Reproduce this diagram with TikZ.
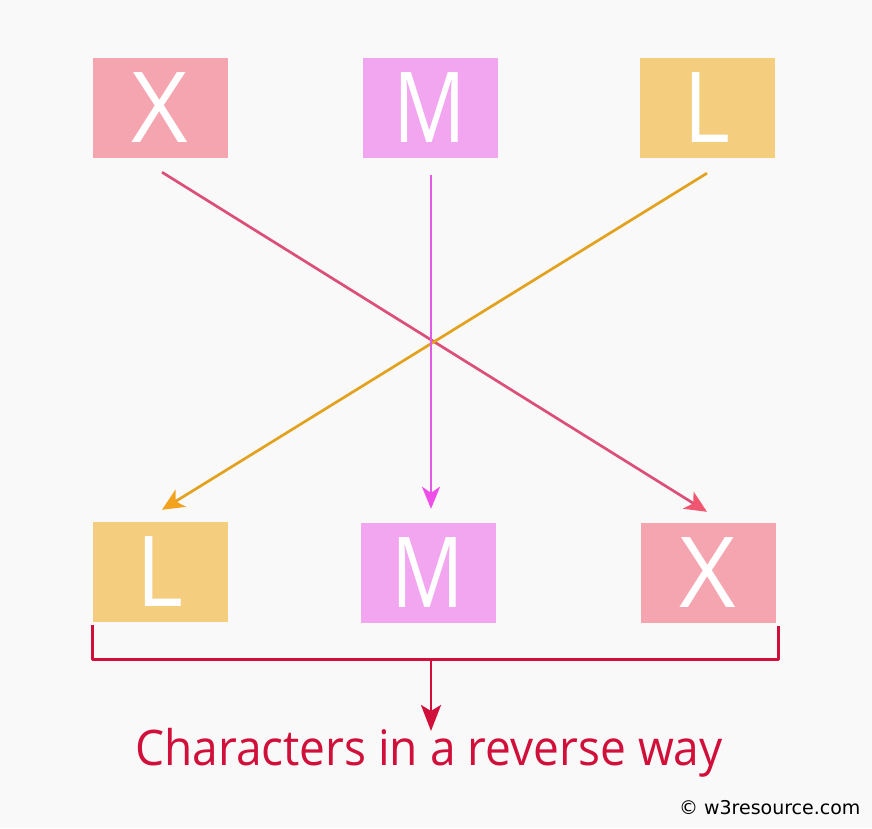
\documentclass[tikz,border=0pt]{standalone}
\usepackage{fontspec}
\setmainfont{Open Sans}
\newfontfamily\dejavu{DejaVu Sans}
\usetikzlibrary{arrows.meta,calc}
\definecolor{bgc}{HTML}{F9F9F9}
\definecolor{xbox}{HTML}{F5A5B0}
\definecolor{mbox}{HTML}{F2A6F0}
\definecolor{lbox}{HTML}{F5CD7E}
\definecolor{xline}{HTML}{DB4F78}
\definecolor{mline}{HTML}{E05CE2}
\definecolor{lline}{HTML}{E3A21E}
\definecolor{xtip}{HTML}{F05670}
\definecolor{mtip}{HTML}{F04EE8}
\definecolor{ltip}{HTML}{F2A21C}
\definecolor{redc}{HTML}{D0103A}
\tikzset{
  letterbox/.style={minimum width=135pt,minimum height=100pt,inner sep=0pt},
  lettertext/.style={font=\fontsize{98}{98}\selectfont,text=white,inner sep=0pt},
  conn/.style={line width=2.7pt},
}
% #1 name, #2 position, #3 colour, #4 letter, #5 horizontal scale
\newcommand{\boxletter}[5]{%
  \node[letterbox,fill=#3] (#1) at #2 {};
  \node[lettertext,xscale=#5] (#1t) at (#1.center) {#4};
}
\begin{document}
\begin{tikzpicture}[x=1pt,y=-1pt]
\fill[bgc] (0,0) rectangle (872,828);
\useasboundingbox (0,0) rectangle (872,828);
\boxletter{tX}{(160,108)}{xbox}{X}{1}
\boxletter{tM}{(430,108)}{mbox}{M}{0.82}
\boxletter{tL}{(707,108)}{lbox}{L}{0.92}
\boxletter{bL}{(160,572)}{lbox}{L}{0.92}
\boxletter{bM}{(428,573)}{mbox}{M}{0.82}
\boxletter{bX}{(708,573)}{xbox}{X}{1}
% connectors
\draw[conn,draw=xline,-{Stealth[length=22pt,width=20pt,inset=6pt,color=xtip]}]
  ($(tX.south)+(2,14)$) -- ($(bX.north)+(-1,-11)$);
\draw[conn,draw=lline,-{Stealth[length=22pt,width=20pt,inset=6pt,color=ltip]}]
  ($(tL.south)+(0,15)$) -- ($(bL.north)+(2,-12)$);
\draw[conn,draw=mline,-{Stealth[length=22pt,width=18pt,inset=6pt,color=mtip]}]
  ($(tM.south)+(1,17)$) -- ($(bM.north)+(3,-14)$);
% bracket
\coordinate (brl) at ($(bL.south west)+(0,3)$);
\coordinate (brr) at ($(bX.south east)+(3,3)$);
\draw[line width=2.8pt,draw=redc,line join=round] (brl) -- ++(0,34) -| (brr);
\coordinate (brc) at (431,658);
\node[font=\fontsize{49}{49}\selectfont,text=redc,xscale=0.94,anchor=base] (cap) at (429,765) {Characters in a reverse way};
\draw[line width=2.8pt,draw=redc,-{Stealth[length=26pt,width=20pt,inset=6pt]}] (brc) -- (431,731);
\node[font=\fontsize{19}{19}\selectfont\dejavu,anchor=east] (wm) at (864,808) {© w3resource.com};
\end{tikzpicture}
\end{document}
